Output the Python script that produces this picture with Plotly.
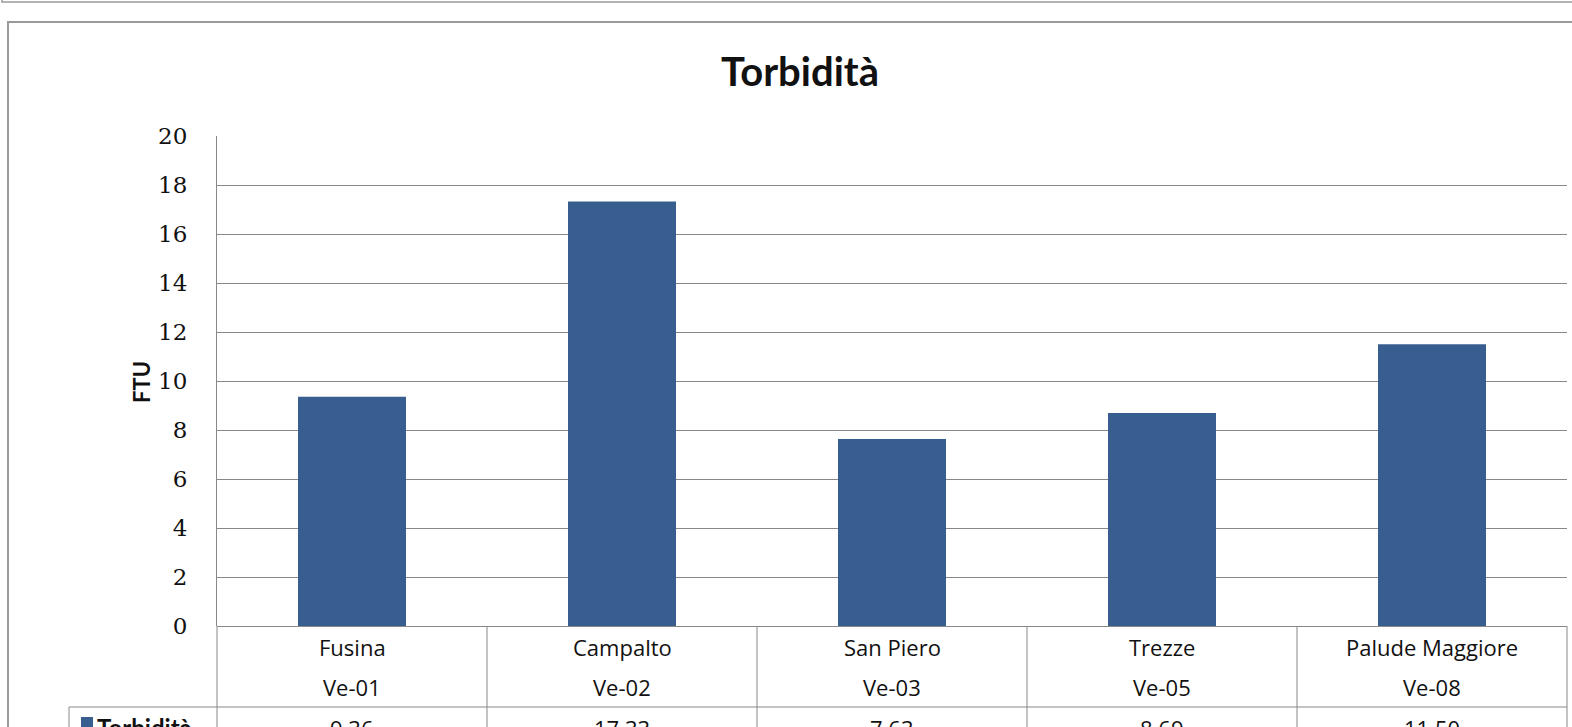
"""Torbidità per stazione — grafico a barre in stile Excel con tabella dati sotto."""

import plotly.graph_objects as go

# --- dati ---------------------------------------------------------------------
stazioni = ["Fusina", "Campalto", "San Piero", "Trezze", "Palude Maggiore"]
codici = ["Ve-01", "Ve-02", "Ve-03", "Ve-05", "Ve-08"]
torbidita = [9.36, 17.33, 7.63, 8.69, 11.50]
y_ticks = [0, 2, 4, 6, 8, 10, 12, 14, 16, 18, 20]

# --- geometria (pixel della finestra) -----------------------------------------
W, H = 1572, 727
PL, PR, PT, PB = 217, 1567, 136, 626  # area del grafico
BAR_COLOR = "#375E8F"
LINE_COLOR = "#888888"
SANS = "Open Sans"


def px(x):
    return (x - PL) / (PR - PL)


def py(y):
    return (PB - y) / (PB - PT)


n = len(stazioni)

fig = go.Figure()
fig.add_trace(go.Bar(
    x=list(range(n)),
    y=torbidita,
    marker=dict(color=BAR_COLOR, line=dict(width=0)),
    width=0.4,
    name="Torbidità",
    showlegend=False,
    hovertemplate="%{y:.2f} FTU<extra></extra>",
))

shapes = []
# cornice superiore (bordo di un riquadro precedente) e riquadro del grafico
shapes.append(dict(type="path", xref="paper", yref="paper",
                   path=f"M {px(2)},{py(-1)} L {px(2)},{py(2)} L {px(1580)},{py(2)}",
                   line=dict(color="#9A9A9A", width=1.5)))
shapes.append(dict(type="path", xref="paper", yref="paper",
                   path=f"M {px(8)},{py(740)} L {px(8)},{py(22)} L {px(1580)},{py(22)}",
                   line=dict(color="#9A9A9A", width=2)))

# tabella dati sotto l'asse x
row_line = 707
shapes.append(dict(type="line", xref="paper", yref="paper",
                   x0=px(69), x1=1, y0=py(row_line), y1=py(row_line),
                   line=dict(color=LINE_COLOR, width=1)))
shapes.append(dict(type="line", xref="paper", yref="paper",
                   x0=px(69), x1=px(69), y0=py(row_line), y1=py(740),
                   line=dict(color=LINE_COLOR, width=1)))
for k in range(n + 1):
    shapes.append(dict(type="line", xref="paper", yref="paper",
                       x0=k / n, x1=k / n, y0=0, y1=py(740),
                       line=dict(color=LINE_COLOR, width=1)))
# quadratino della legenda
shapes.append(dict(type="rect", xref="paper", yref="paper",
                   x0=px(81), x1=px(93), y0=py(717), y1=py(729),
                   fillcolor=BAR_COLOR, line=dict(width=0)))

cell_font = dict(family=SANS, size=22, color="#111111", weight=500)
annotations = []
for i, (nome, cod, val) in enumerate(zip(stazioni, codici, torbidita)):
    annotations.append(dict(x=i, y=py(647), xref="x", yref="paper", text=nome,
                            showarrow=False, xanchor="center", yanchor="middle",
                            font=cell_font))
    annotations.append(dict(x=i, y=py(687), xref="x", yref="paper", text=cod,
                            showarrow=False, xanchor="center", yanchor="middle",
                            font=cell_font))
    annotations.append(dict(x=i, y=py(711), xref="x", yref="paper", text=f"{val:.2f}",
                            showarrow=False, xanchor="center", yanchor="top",
                            font=cell_font))

annotations.append(dict(x=px(95), y=py(711), xref="paper", yref="paper",
                        text="<b>Torbidità</b>", showarrow=False,
                        xanchor="left", yanchor="top",
                        font=dict(family="Lato", size=24, color="#111111")))
annotations.append(dict(x=px(141), y=py(382), xref="paper", yref="paper",
                        text="<b>FTU</b>", showarrow=False, textangle=-90,
                        xanchor="center", yanchor="middle",
                        font=dict(family="Lato", size=22, color="#111111")))

fig.update_layout(
    width=W,
    height=H,
    margin=dict(l=PL, r=W - PR, t=PT, b=H - PB, pad=0),
    paper_bgcolor="white",
    plot_bgcolor="white",
    title=dict(text="<b>Torbidità</b>", x=800 / W, xanchor="center",
               y=1 - 72 / H, yanchor="middle",
               font=dict(family="Lato", size=40, color="#111111")),
    shapes=shapes,
    annotations=annotations,
    bargap=0.6,
)
fig.update_xaxes(range=[-0.5, n - 0.5], showticklabels=False, showgrid=False,
                 zeroline=False, showline=False, fixedrange=True)
fig.update_yaxes(range=[0, 20], tickvals=y_ticks, ticktext=[str(v) for v in y_ticks],
                 showgrid=True, gridcolor=LINE_COLOR, gridwidth=1,
                 zeroline=True, zerolinecolor=LINE_COLOR, zerolinewidth=1,
                 showline=True, linecolor=LINE_COLOR, linewidth=1,
                 ticks="", ticklabelstandoff=24,
                 tickfont=dict(family="DejaVu Serif", size=23, color="#111111"),
                 fixedrange=True)

fig.write_html("out.html", config={"displayModeBar": False},
               post_script="document.body.style.margin='0';")
